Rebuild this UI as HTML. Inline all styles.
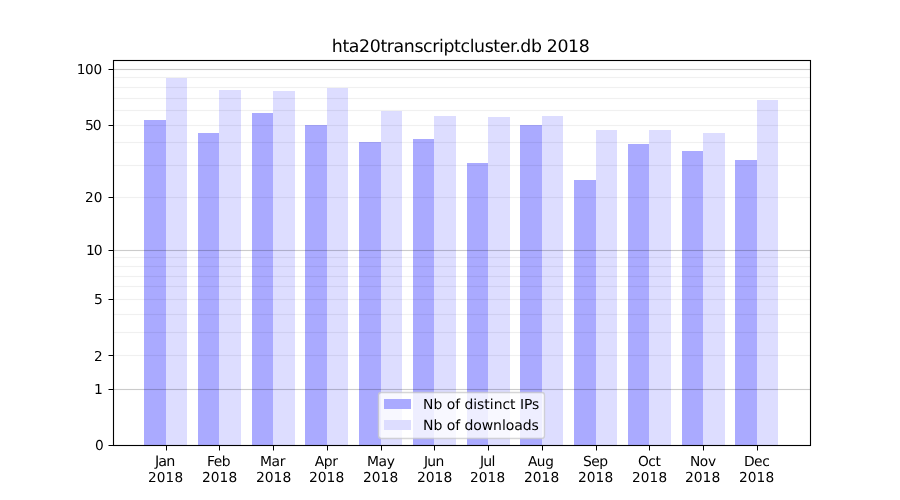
<!DOCTYPE html>
<html><head><meta charset="utf-8"><title>hta20transcriptcluster.db 2018</title>
<style>
html,body{margin:0;padding:0;background:#fff;}
body{width:900px;height:500px;overflow:hidden;}
svg{display:block;}
.t{font-family:'DejaVu Sans','Liberation Sans',sans-serif;font-size:13.889px;fill:#000;}
.t{text-rendering:geometricPrecision;} svg{will-change:transform}
</style></head><body>
<svg width="900" height="500" viewBox="0 0 900 500">
<rect x="0" y="0" width="900" height="500" fill="#fff"/>
<g shape-rendering="crispEdges">
<rect x="144" y="120" width="22" height="325" fill="#aaaaff"/>
<rect x="166" y="78" width="21" height="367" fill="#ddddff"/>
<rect x="198" y="133" width="21" height="312" fill="#aaaaff"/>
<rect x="219" y="90" width="22" height="355" fill="#ddddff"/>
<rect x="252" y="113" width="21" height="332" fill="#aaaaff"/>
<rect x="273" y="91" width="22" height="354" fill="#ddddff"/>
<rect x="305" y="125" width="22" height="320" fill="#aaaaff"/>
<rect x="327" y="88" width="21" height="357" fill="#ddddff"/>
<rect x="359" y="142" width="22" height="303" fill="#aaaaff"/>
<rect x="381" y="111" width="21" height="334" fill="#ddddff"/>
<rect x="413" y="139" width="21" height="306" fill="#aaaaff"/>
<rect x="434" y="116" width="22" height="329" fill="#ddddff"/>
<rect x="467" y="163" width="21" height="282" fill="#aaaaff"/>
<rect x="488" y="117" width="22" height="328" fill="#ddddff"/>
<rect x="520" y="125" width="22" height="320" fill="#aaaaff"/>
<rect x="542" y="116" width="21" height="329" fill="#ddddff"/>
<rect x="574" y="180" width="22" height="265" fill="#aaaaff"/>
<rect x="596" y="130" width="21" height="315" fill="#ddddff"/>
<rect x="628" y="144" width="21" height="301" fill="#aaaaff"/>
<rect x="649" y="130" width="22" height="315" fill="#ddddff"/>
<rect x="682" y="151" width="21" height="294" fill="#aaaaff"/>
<rect x="703" y="133" width="22" height="312" fill="#ddddff"/>
<rect x="735" y="160" width="22" height="285" fill="#aaaaff"/>
<rect x="757" y="100" width="21" height="345" fill="#ddddff"/>
<rect x="114" y="355" width="696" height="1" fill="#000" fill-opacity="0.0567"/>
<rect x="114" y="354" width="696" height="3" fill="#000" fill-opacity="0.0035"/>
<rect x="114" y="332" width="696" height="1" fill="#000" fill-opacity="0.0567"/>
<rect x="114" y="331" width="696" height="3" fill="#000" fill-opacity="0.0035"/>
<rect x="114" y="314" width="696" height="1" fill="#000" fill-opacity="0.0567"/>
<rect x="114" y="313" width="696" height="3" fill="#000" fill-opacity="0.0035"/>
<rect x="114" y="299" width="696" height="1" fill="#000" fill-opacity="0.0567"/>
<rect x="114" y="298" width="696" height="3" fill="#000" fill-opacity="0.0035"/>
<rect x="114" y="286" width="696" height="1" fill="#000" fill-opacity="0.0567"/>
<rect x="114" y="285" width="696" height="3" fill="#000" fill-opacity="0.0035"/>
<rect x="114" y="276" width="696" height="1" fill="#000" fill-opacity="0.0567"/>
<rect x="114" y="275" width="696" height="3" fill="#000" fill-opacity="0.0035"/>
<rect x="114" y="266" width="696" height="1" fill="#000" fill-opacity="0.0567"/>
<rect x="114" y="265" width="696" height="3" fill="#000" fill-opacity="0.0035"/>
<rect x="114" y="257" width="696" height="1" fill="#000" fill-opacity="0.0567"/>
<rect x="114" y="256" width="696" height="3" fill="#000" fill-opacity="0.0035"/>
<rect x="114" y="197" width="696" height="1" fill="#000" fill-opacity="0.0567"/>
<rect x="114" y="196" width="696" height="3" fill="#000" fill-opacity="0.0035"/>
<rect x="114" y="165" width="696" height="1" fill="#000" fill-opacity="0.0567"/>
<rect x="114" y="164" width="696" height="3" fill="#000" fill-opacity="0.0035"/>
<rect x="114" y="142" width="696" height="1" fill="#000" fill-opacity="0.0567"/>
<rect x="114" y="141" width="696" height="3" fill="#000" fill-opacity="0.0035"/>
<rect x="114" y="125" width="696" height="1" fill="#000" fill-opacity="0.0567"/>
<rect x="114" y="124" width="696" height="3" fill="#000" fill-opacity="0.0035"/>
<rect x="114" y="110" width="696" height="1" fill="#000" fill-opacity="0.0567"/>
<rect x="114" y="109" width="696" height="3" fill="#000" fill-opacity="0.0035"/>
<rect x="114" y="98" width="696" height="1" fill="#000" fill-opacity="0.0567"/>
<rect x="114" y="97" width="696" height="3" fill="#000" fill-opacity="0.0035"/>
<rect x="114" y="87" width="696" height="1" fill="#000" fill-opacity="0.0567"/>
<rect x="114" y="86" width="696" height="3" fill="#000" fill-opacity="0.0035"/>
<rect x="114" y="77" width="696" height="1" fill="#000" fill-opacity="0.0567"/>
<rect x="114" y="76" width="696" height="3" fill="#000" fill-opacity="0.0035"/>
<rect x="114" y="389" width="696" height="1" fill="#000" fill-opacity="0.1911"/>
<rect x="114" y="388" width="696" height="3" fill="#000" fill-opacity="0.011"/>
<rect x="114" y="250" width="696" height="1" fill="#000" fill-opacity="0.1911"/>
<rect x="114" y="249" width="696" height="3" fill="#000" fill-opacity="0.011"/>
<rect x="114" y="69" width="696" height="1" fill="#000" fill-opacity="0.1911"/>
<rect x="114" y="68" width="696" height="3" fill="#000" fill-opacity="0.011"/>
<rect x="109" y="445" width="4" height="1" fill="#000"/>
<rect x="108" y="445" width="1" height="1" fill="#000" fill-opacity="0.5"/>
<rect x="109" y="389" width="4" height="1" fill="#000"/>
<rect x="108" y="389" width="1" height="1" fill="#000" fill-opacity="0.5"/>
<rect x="109" y="355" width="4" height="1" fill="#000"/>
<rect x="108" y="355" width="1" height="1" fill="#000" fill-opacity="0.5"/>
<rect x="109" y="299" width="4" height="1" fill="#000"/>
<rect x="108" y="299" width="1" height="1" fill="#000" fill-opacity="0.5"/>
<rect x="109" y="250" width="4" height="1" fill="#000"/>
<rect x="108" y="250" width="1" height="1" fill="#000" fill-opacity="0.5"/>
<rect x="109" y="197" width="4" height="1" fill="#000"/>
<rect x="108" y="197" width="1" height="1" fill="#000" fill-opacity="0.5"/>
<rect x="109" y="125" width="4" height="1" fill="#000"/>
<rect x="108" y="125" width="1" height="1" fill="#000" fill-opacity="0.5"/>
<rect x="109" y="69" width="4" height="1" fill="#000"/>
<rect x="108" y="69" width="1" height="1" fill="#000" fill-opacity="0.5"/>
<rect x="166" y="446" width="1" height="4" fill="#000"/>
<rect x="166" y="450" width="1" height="1" fill="#000" fill-opacity="0.5"/>
<rect x="219" y="446" width="1" height="4" fill="#000"/>
<rect x="219" y="450" width="1" height="1" fill="#000" fill-opacity="0.5"/>
<rect x="273" y="446" width="1" height="4" fill="#000"/>
<rect x="273" y="450" width="1" height="1" fill="#000" fill-opacity="0.5"/>
<rect x="327" y="446" width="1" height="4" fill="#000"/>
<rect x="327" y="450" width="1" height="1" fill="#000" fill-opacity="0.5"/>
<rect x="381" y="446" width="1" height="4" fill="#000"/>
<rect x="381" y="450" width="1" height="1" fill="#000" fill-opacity="0.5"/>
<rect x="434" y="446" width="1" height="4" fill="#000"/>
<rect x="434" y="450" width="1" height="1" fill="#000" fill-opacity="0.5"/>
<rect x="488" y="446" width="1" height="4" fill="#000"/>
<rect x="488" y="450" width="1" height="1" fill="#000" fill-opacity="0.5"/>
<rect x="542" y="446" width="1" height="4" fill="#000"/>
<rect x="542" y="450" width="1" height="1" fill="#000" fill-opacity="0.5"/>
<rect x="596" y="446" width="1" height="4" fill="#000"/>
<rect x="596" y="450" width="1" height="1" fill="#000" fill-opacity="0.5"/>
<rect x="649" y="446" width="1" height="4" fill="#000"/>
<rect x="649" y="450" width="1" height="1" fill="#000" fill-opacity="0.5"/>
<rect x="703" y="446" width="1" height="4" fill="#000"/>
<rect x="703" y="450" width="1" height="1" fill="#000" fill-opacity="0.5"/>
<rect x="757" y="446" width="1" height="4" fill="#000"/>
<rect x="757" y="450" width="1" height="1" fill="#000" fill-opacity="0.5"/>
</g>
<rect x="113.5" y="60.5" width="697" height="385" fill="none" stroke="#000" stroke-width="1.11"/>
<rect x="378.5" y="392.5" width="166" height="46" rx="2.78" fill="#fff" stroke="#ccc" stroke-width="1.389" opacity="0.8"/>
<g shape-rendering="crispEdges"><rect x="384" y="399" width="27" height="10" fill="#aaaaff"/>
<rect x="384" y="420" width="27" height="10" fill="#ddddff"/></g>
<text id="y0" x="103.63" y="450.28" text-anchor="end" textLength="8.57" lengthAdjust="spacing" class="t" style="font-size:13.75px">0</text>
<text id="y1" x="102.72" y="393.80" text-anchor="end" textLength="8.57" lengthAdjust="spacing" class="t">1</text>
<text id="y2" x="102.57" y="360.76" text-anchor="end" textLength="7.70" lengthAdjust="spacing" class="t" style="font-size:13.611px">2</text>
<text id="y5" x="102.74" y="304.28" text-anchor="end" textLength="8.57" lengthAdjust="spacing" class="t">5</text>
<text id="y10" x="102.47" y="254.88" text-anchor="end" textLength="16.41" lengthAdjust="spacing" class="t">10</text>
<text id="y20" x="102.33" y="202.19" text-anchor="end" textLength="17.26" lengthAdjust="spacing" class="t" style="font-size:13.611px">20</text>
<text id="y50" x="101.47" y="129.89" text-anchor="end" textLength="16.35" lengthAdjust="spacing" class="t">50</text>
<text id="y100" x="102.05" y="74.21" text-anchor="end" textLength="25.22" lengthAdjust="spacing" class="t" style="font-size:13.611px">100</text>
<text id="mJan" x="154.93" y="466.23" textLength="20.28" lengthAdjust="spacing" class="t" style="font-size:14.306px">Jan</text>
<text id="yJan" x="147.93" y="481.78" textLength="35.14" lengthAdjust="spacing" class="t" style="font-size:13.611px">2018</text>
<text id="mFeb" x="206.94" y="466.23" textLength="23.51" lengthAdjust="spacing" class="t">Feb</text>
<text id="yFeb" x="201.91" y="481.78" textLength="35.31" lengthAdjust="spacing" class="t" style="font-size:13.75px">2018</text>
<text id="mMar" x="259.91" y="466.23" textLength="25.50" lengthAdjust="spacing" class="t">Mar</text>
<text id="yMar" x="256.08" y="481.78" textLength="35.14" lengthAdjust="spacing" class="t">2018</text>
<text id="mApr" x="314.82" y="466.23" textLength="23.07" lengthAdjust="spacing" class="t">Apr</text>
<text id="yApr" x="309.08" y="481.78" textLength="35.14" lengthAdjust="spacing" class="t">2018</text>
<text id="mMay" x="366.90" y="466.23" textLength="27.99" lengthAdjust="spacing" class="t">May</text>
<text id="yMay" x="362.90" y="481.78" textLength="35.31" lengthAdjust="spacing" class="t" style="font-size:13.75px">2018</text>
<text id="mJun" x="423.91" y="466.23" textLength="20.34" lengthAdjust="spacing" class="t">Jun</text>
<text id="yJun" x="417.08" y="481.78" textLength="35.14" lengthAdjust="spacing" class="t">2018</text>
<text id="mJul" x="479.95" y="466.23" textLength="15.34" lengthAdjust="spacing" class="t" style="font-size:14.006px">Jul</text>
<text id="yJul" x="469.92" y="481.78" textLength="35.17" lengthAdjust="spacing" class="t" style="font-size:13.613px">2018</text>
<text id="mAug" x="527.91" y="466.23" textLength="25.88" lengthAdjust="spacing" class="t" style="font-size:13.611px">Aug</text>
<text id="yAug" x="523.89" y="481.78" textLength="35.31" lengthAdjust="spacing" class="t" style="font-size:13.75px">2018</text>
<text id="mSep" x="582.92" y="466.23" textLength="25.04" lengthAdjust="spacing" class="t">Sep</text>
<text id="ySep" x="577.90" y="481.78" textLength="35.31" lengthAdjust="spacing" class="t" style="font-size:13.75px">2018</text>
<text id="mOct" x="637.88" y="466.23" textLength="23.00" lengthAdjust="spacing" class="t" style="font-size:13.75px">Oct</text>
<text id="yOct" x="632.00" y="481.78" textLength="35.05" lengthAdjust="spacing" class="t" style="font-size:13.611px">2018</text>
<text id="mNov" x="689.90" y="466.23" textLength="26.21" lengthAdjust="spacing" class="t" style="font-size:13.75px">Nov</text>
<text id="yNov" x="684.89" y="481.78" textLength="35.41" lengthAdjust="spacing" class="t" style="font-size:13.887px">2018</text>
<text id="mDec" x="743.89" y="466.23" textLength="25.91" lengthAdjust="spacing" class="t">Dec</text>
<text id="yDec" x="738.88" y="481.78" textLength="35.35" lengthAdjust="spacing" class="t" style="font-size:13.75px">2018</text>
<text id="title" x="460.78" y="51.67" text-anchor="middle" textLength="257.89" lengthAdjust="spacing" class="t" style="font-size:17.334px">hta20transcriptcluster.db 2018</text>
<text id="leg1" x="423.09" y="409.23" textLength="116.24" lengthAdjust="spacing" class="t">Nb of distinct IPs</text>
<text id="leg2" x="423.11" y="429.61" textLength="115.70" lengthAdjust="spacing" class="t" style="font-size:14.028px">Nb of downloads</text>
</svg>
</body></html>
